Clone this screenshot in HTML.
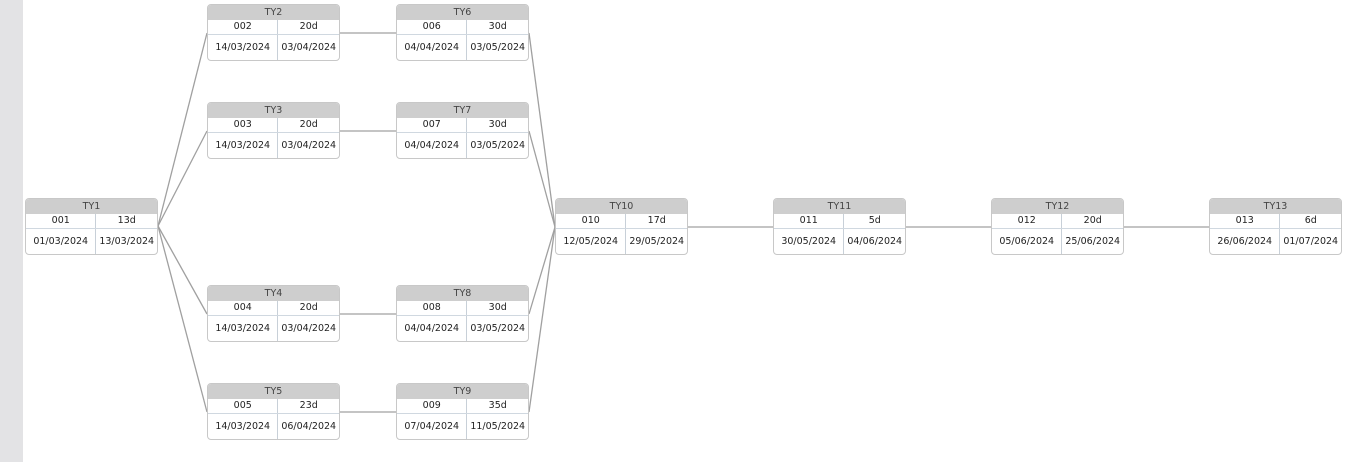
<!DOCTYPE html><html><head><style>
body{margin:0;width:1360px;height:462px;background:#fff;position:relative;overflow:hidden;font-family:"DejaVu Sans","Liberation Sans",sans-serif;font-size:9.5px;color:#222}
.bar{position:absolute;left:0;top:0;width:23px;height:462px;background:#e3e3e5}
.n{position:absolute;width:131px;height:55px;border:1px solid #c8c8c8;border-radius:4px;overflow:hidden;background:#fff}
.h{height:15px;background:#cecece;text-align:center;line-height:15px;color:#444}
.r1,.r2{display:flex;border-bottom:1px solid #d0d8e0}
.r1{height:14px;line-height:14px}
.r2{height:25px;line-height:25px;border-bottom:none}
.c{width:70px;text-align:center;border-right:1px solid #c8d0d8}
.c+.c{width:61px;border-right:none}
svg{position:absolute;left:0;top:0}
</style></head><body>
<div class="bar"></div>
<svg width="1360" height="462"><g stroke="#a0a0a0" stroke-width="1.3" fill="none">
<line x1="158" y1="226" x2="207" y2="33"/><line x1="158" y1="226" x2="207" y2="131"/>
<line x1="158" y1="226" x2="207" y2="314"/><line x1="158" y1="226" x2="207" y2="412"/>
<line x1="340" y1="33" x2="396" y2="33"/><line x1="340" y1="131" x2="396" y2="131"/>
<line x1="340" y1="314" x2="396" y2="314"/><line x1="340" y1="412" x2="396" y2="412"/>
<line x1="529" y1="33" x2="555" y2="227"/><line x1="529" y1="131" x2="555" y2="227"/>
<line x1="529" y1="314" x2="555" y2="227"/><line x1="529" y1="412" x2="555" y2="227"/>
<line x1="688" y1="227" x2="773" y2="227"/><line x1="906" y1="227" x2="991" y2="227"/>
<line x1="1124" y1="227" x2="1209" y2="227"/></g></svg>
<div class="n" style="left:25px;top:198px"><div class="h">TY1</div><div class="r1"><div class="c">001</div><div class="c">13d</div></div><div class="r2"><div class="c">01/03/2024</div><div class="c">13/03/2024</div></div></div>
<div class="n" style="left:207px;top:4px"><div class="h">TY2</div><div class="r1"><div class="c">002</div><div class="c">20d</div></div><div class="r2"><div class="c">14/03/2024</div><div class="c">03/04/2024</div></div></div>
<div class="n" style="left:207px;top:102px"><div class="h">TY3</div><div class="r1"><div class="c">003</div><div class="c">20d</div></div><div class="r2"><div class="c">14/03/2024</div><div class="c">03/04/2024</div></div></div>
<div class="n" style="left:207px;top:285px"><div class="h">TY4</div><div class="r1"><div class="c">004</div><div class="c">20d</div></div><div class="r2"><div class="c">14/03/2024</div><div class="c">03/04/2024</div></div></div>
<div class="n" style="left:207px;top:383px"><div class="h">TY5</div><div class="r1"><div class="c">005</div><div class="c">23d</div></div><div class="r2"><div class="c">14/03/2024</div><div class="c">06/04/2024</div></div></div>
<div class="n" style="left:396px;top:4px"><div class="h">TY6</div><div class="r1"><div class="c">006</div><div class="c">30d</div></div><div class="r2"><div class="c">04/04/2024</div><div class="c">03/05/2024</div></div></div>
<div class="n" style="left:396px;top:102px"><div class="h">TY7</div><div class="r1"><div class="c">007</div><div class="c">30d</div></div><div class="r2"><div class="c">04/04/2024</div><div class="c">03/05/2024</div></div></div>
<div class="n" style="left:396px;top:285px"><div class="h">TY8</div><div class="r1"><div class="c">008</div><div class="c">30d</div></div><div class="r2"><div class="c">04/04/2024</div><div class="c">03/05/2024</div></div></div>
<div class="n" style="left:396px;top:383px"><div class="h">TY9</div><div class="r1"><div class="c">009</div><div class="c">35d</div></div><div class="r2"><div class="c">07/04/2024</div><div class="c">11/05/2024</div></div></div>
<div class="n" style="left:555px;top:198px"><div class="h">TY10</div><div class="r1"><div class="c">010</div><div class="c">17d</div></div><div class="r2"><div class="c">12/05/2024</div><div class="c">29/05/2024</div></div></div>
<div class="n" style="left:773px;top:198px"><div class="h">TY11</div><div class="r1"><div class="c">011</div><div class="c">5d</div></div><div class="r2"><div class="c">30/05/2024</div><div class="c">04/06/2024</div></div></div>
<div class="n" style="left:991px;top:198px"><div class="h">TY12</div><div class="r1"><div class="c">012</div><div class="c">20d</div></div><div class="r2"><div class="c">05/06/2024</div><div class="c">25/06/2024</div></div></div>
<div class="n" style="left:1209px;top:198px"><div class="h">TY13</div><div class="r1"><div class="c">013</div><div class="c">6d</div></div><div class="r2"><div class="c">26/06/2024</div><div class="c">01/07/2024</div></div></div>
</body></html>
